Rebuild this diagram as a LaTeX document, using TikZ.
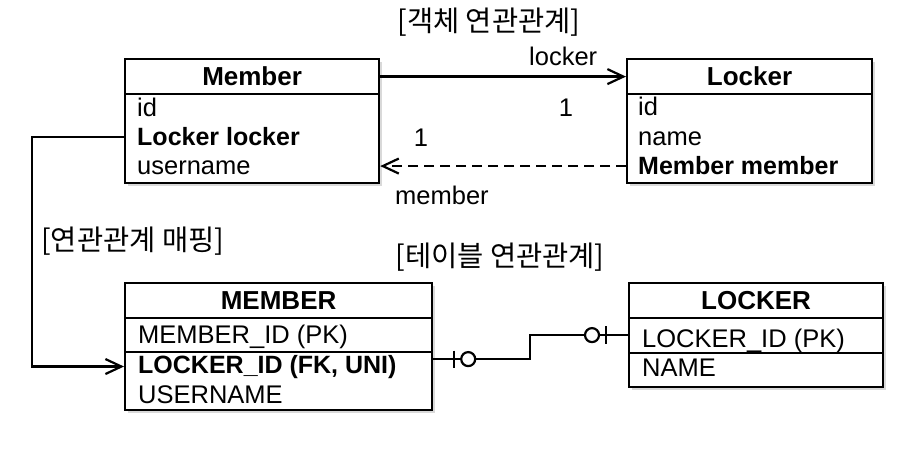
\documentclass[tikz,border=0pt]{standalone}
\usepackage{fontspec}
\setmainfont{Liberation Sans}
\newfontfamily\kr{Noto Sans CJK KR}
\usetikzlibrary{arrows.meta,shadows}
\begin{document}
\begin{tikzpicture}[x=1pt,y=-1pt,
  box/.style={draw, line width=2.2pt, fill=white, inner sep=0pt, anchor=north west,
    drop shadow={shadow xshift=2.5pt, shadow yshift=-2.5pt, opacity=0.3}},
  hdr/.style={draw, line width=2.2pt, inner sep=0pt, anchor=north west,
    font=\fontsize{26}{30}\selectfont\bfseries},
  cell/.style={draw, line width=2.2pt, inner sep=0pt, anchor=north west},
  txt/.style={inner sep=0pt, anchor=base west, font=\fontsize{25.5}{30}\selectfont},
  btxt/.style={txt, font=\fontsize{25}{30}\selectfont\bfseries},
  lbl/.style={inner sep=0pt, font=\fontsize{25.5}{30}\selectfont},
  krl/.style={inner sep=0pt, font=\fontsize{28.5}{32}\selectfont\kr},
  conn/.style={line width=2.2pt},
  arr/.style={conn, -{Straight Barb[length=16pt,width=15pt]}},
  ercirc/.style={circle, draw, line width=2.2pt, fill=white, minimum size=14pt, inner sep=0pt},
]
\useasboundingbox (0,0) rectangle (924,457);

% Member class
\node[box, minimum width=254pt, minimum height=124pt] (member) at (124,58) {};
\node[hdr, minimum width=254pt, minimum height=35pt] (memberH) at (124,58) {Member};
\node[txt] (mId) at (137,117) {id};
\node[btxt] (mLL) at (137,146) {Locker locker};
\node[txt] (mUN) at (137,175) {username};

% Locker class
\node[box, minimum width=245pt, minimum height=124pt] (locker) at (626,58) {};
\node[hdr, minimum width=245pt, minimum height=35pt] (lockerH) at (626,58) {Locker};
\node[txt] (lId) at (638,116) {id};
\node[txt] (lName) at (638,146) {name};
\node[btxt] (lMM) at (638,175) {Member member};

% MEMBER table
\node[box, minimum width=307pt, minimum height=127pt] (tmember) at (124,282) {};
\node[hdr, minimum width=307pt, minimum height=35pt] (tmemberH) at (124,282) {MEMBER};
\node[cell, minimum width=307pt, minimum height=34pt] (tmPKc) at (124,317) {};
\node[txt] (tmPK) at (138,343) {MEMBER\_ID (PK)};
\node[btxt] (tmLID) at (138,373) {LOCKER\_ID (FK, UNI)};
\node[txt] (tmUN) at (138,403) {USERNAME};

% LOCKER table
\node[box, minimum width=254pt, minimum height=104pt] (tlocker) at (628,282) {};
\node[hdr, minimum width=254pt, minimum height=35pt] (tlockerH) at (628,282) {LOCKER};
\node[cell, minimum width=254pt, minimum height=35pt] (tlPKc) at (628,317) {};
\node[txt] (tlPK) at (642,347) {LOCKER\_ID (PK)};
\node[txt] (tlName) at (642,376) {NAME};

% labels
\node[lbl, anchor=base west] (lblLocker) at (529,66) {locker};
\node[lbl, anchor=base] (one1) at (566,117) {1};
\node[lbl, anchor=base] (one2) at (421,147) {1};
\node[lbl, anchor=base west] (lblMember) at (395,205) {member};
\node[krl] (t1) at (489,22) {[객체 연관관계]};
\node[krl, anchor=west] (t2) at (41,241) {[연관관계 매핑]};
\node[krl] (t3) at (500,257) {[테이블 연관관계]};

% connectors
\draw[arr] (memberH.east) -- (lockerH.west);
\draw[arr, dash pattern=on 10pt off 6pt] (lMM.west -| locker.west) -- (lMM.west -| member.east);
\draw[arr] (mLL.west -| member.west) -- ++(-92,0) |- (tmLID.west -| tmember.west);

% ER relation
\draw[conn] ([yshift=-12.5pt]tmember.east) -- ++(97,0) |- (tlocker.west);
\draw[conn] ([xshift=21pt,yshift=-12.5pt]tmember.east) ++(0,-8.5) -- ++(0,17);
\node[ercirc] (c1) at ([xshift=35pt,yshift=-12.5pt]tmember.east) {};
\draw[conn] ([xshift=-22pt]tlocker.west) ++(0,-9) -- ++(0,18);
\node[ercirc] (c2) at ([xshift=-36pt]tlocker.west) {};
\end{tikzpicture}
\end{document}
